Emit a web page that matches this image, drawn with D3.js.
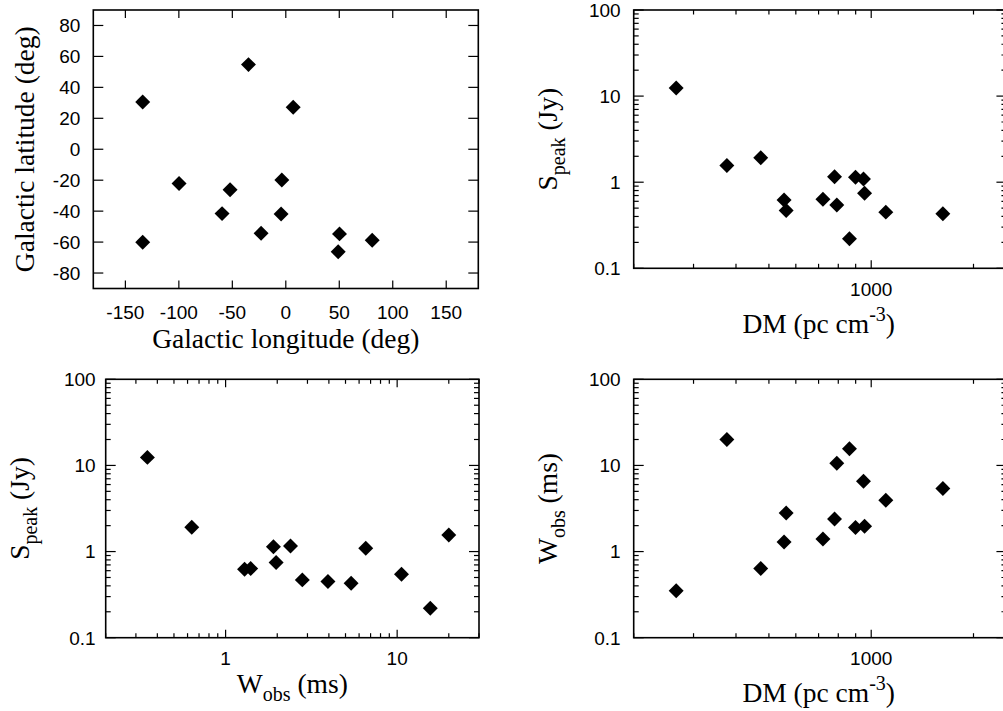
<!DOCTYPE html>
<html><head><meta charset="utf-8">
<script src="https://cdn.jsdelivr.net/npm/d3@7"></script>
<style>body{margin:0;background:#fff}svg{display:block}</style>
</head><body>
<svg id="c" width="1003" height="711"></svg>
<script>
// ---- Data ----
const galLon = [-133.8, -34.9, 6.9, -99.8, -52.1, -3.7, -59.6, -4.4, -133.8, -23.1, 50.2, 49.0, 80.8];
const galLat = [30.5, 54.7, 27.2, -22.1, -26.2, -19.9, -41.6, -41.8, -60.1, -54.3, -54.7, -66.3, -58.8];
const dmVals    = [266.7, 376, 473, 554, 562, 721, 780, 792, 863, 899, 949, 956, 1104, 1625];
const speakVals = [12.4, 1.56, 1.92, 0.623, 0.469, 0.635, 1.16, 0.545, 0.22, 1.14, 1.09, 0.745, 0.449, 0.429];
const wobsVals  = [0.35, 20.0, 0.635, 1.29, 2.8, 1.40, 2.39, 10.6, 15.6, 1.90, 6.56, 1.97, 3.95, 5.39];

const lonTicks = [-150, -100, -50, 0, 50, 100, 150];
const latTicks = [-80, -60, -40, -20, 0, 20, 40, 60, 80];
const logYTicks = [0.1, 1, 10, 100];
const logYLabels = ["0.1", "1", "10", "100"];
const dmTicks = [1000];
const dmLabels = ["1000"];
const wTicks = [1, 10];
const wLabels = ["1", "10"];

// ---- Drawing ----
const svg = d3.select("#c");
const TICKFONT = "'Liberation Sans', Arial, Helvetica, sans-serif";
const TITLEFONT = "'Liberation Serif', 'Times New Roman', serif";

function isDecade(v) { const l = Math.log10(v); return Math.abs(l - Math.round(l)) < 1e-9; }

function panel(cfg) {
  const g = svg.append("g");
  const x = cfg.x, y = cfg.y;
  const [xl, xr] = x.range();
  const [yb, yt] = y.range();

  // ticks
  const xMajor = cfg.xMajorTicks, yMajor = cfg.yMajorTicks;
  const xMinor = cfg.xLog ? x.ticks().filter(v => !isDecade(v)) : [];
  const yMinor = cfg.yLog ? y.ticks().filter(v => !isDecade(v)) : [];
  const xAll = (cfg.xLog ? x.ticks().filter(isDecade) : xMajor).map(v => ({v, len: 8})).concat(xMinor.map(v => ({v, len: 4.5})));
  const yAll = (cfg.yLog ? y.ticks().filter(isDecade) : yMajor).map(v => ({v, len: 10})).concat(yMinor.map(v => ({v, len: 5})));

  const tk = g.append("g").attr("stroke", "#000").attr("stroke-width", 1.2);
  xAll.forEach(t => {
    const px = x(t.v);
    tk.append("line").attr("x1", px).attr("x2", px).attr("y1", yb).attr("y2", yb - t.len);
    tk.append("line").attr("x1", px).attr("x2", px).attr("y1", yt).attr("y2", yt + t.len);
  });
  yAll.forEach(t => {
    const py = y(t.v);
    tk.append("line").attr("y1", py).attr("y2", py).attr("x1", xl).attr("x2", xl + t.len);
    tk.append("line").attr("y1", py).attr("y2", py).attr("x1", xr).attr("x2", xr - t.len);
  });

  // frame
  g.append("rect").attr("x", xl).attr("y", yt).attr("width", xr - xl).attr("height", yb - yt)
    .attr("fill", "none").attr("stroke", "#000").attr("stroke-width", 1.6);

  // tick labels
  const tl = g.append("g").attr("font-family", TICKFONT).attr("font-size", 19).attr("fill", "#000");
  xMajor.forEach((v, i) => {
    tl.append("text").attr("x", x(v)).attr("y", yb + cfg.xLabOff).attr("text-anchor", "middle")
      .text(cfg.xLabels[i]);
  });
  yMajor.forEach((v, i) => {
    tl.append("text").attr("x", xl - cfg.yLabOff).attr("y", y(v)).attr("dy", "0.36em")
      .attr("text-anchor", "end").text(cfg.yLabels[i]);
  });

  // axis titles
  const xt = g.append("text").attr("font-family", TITLEFONT).attr("font-size", 27.5)
    .attr("text-anchor", "middle").attr("x", (xl + Math.min(xr, 1003.7)) / 2 + (cfg.xTitleShift || 0)).attr("y", yb + cfg.xTitleOff);
  cfg.xTitle(xt);
  const cy = (yb + yt) / 2;
  const yt2 = g.append("text").attr("font-family", TITLEFONT).attr("font-size", 27.5)
    .attr("text-anchor", "middle")
    .attr("transform", `translate(${xl - cfg.yTitleOff},${cy + (cfg.yTitleShift || 0)}) rotate(-90)`);
  cfg.yTitle(yt2);

  // points
  const sym = d3.symbol().type(d3.symbolSquare).size(112);
  g.append("g").selectAll("path").data(cfg.pts).join("path")
    .attr("d", sym)
    .attr("transform", d => `translate(${x(d[0])},${y(d[1])}) rotate(45)`)
    .attr("fill", "#000");
}

function subTitle(main, sub, rest) {
  return t => {
    t.append("tspan").text(main);
    t.append("tspan").attr("font-size", 20).attr("dy", 8).text(sub);
    t.append("tspan").attr("dy", -8).text(rest);
  };
}
function dmTitle(t) {
  t.append("tspan").text("DM (pc cm");
  t.append("tspan").attr("font-size", 20).attr("dy", -11.5).text("-3");
  t.append("tspan").attr("dy", 11.5).text(")");
}

// Panel 1: galactic coordinates
panel({
  x: d3.scaleLinear().domain([-180, 180]).range([93.3, 478.3]),
  y: d3.scaleLinear().domain([-90, 90]).range([288.5, 10]),
  xMajorTicks: lonTicks, xLabels: lonTicks.map(String),
  yMajorTicks: latTicks, yLabels: latTicks.map(String),
  xLabOff: 30, yLabOff: 13, xTitleOff: 59.5, yTitleOff: 59,
  xTitle: t => t.text("Galactic longitude (deg)"),
  yTitle: t => t.text("Galactic latitude (deg)"),
  pts: galLon.map((v, i) => [v, galLat[i]])
});

// Panel 2: Speak vs DM
panel({
  x: d3.scaleLog().domain([200, 2500]).range([633.7, 633.7 + Math.log10(12.5) * 339.8]),
  y: d3.scaleLog().domain([0.1, 100]).range([268.3, 10]),
  xLog: true, yLog: true,
  xMajorTicks: dmTicks, xLabels: dmLabels,
  yMajorTicks: logYTicks, yLabels: logYLabels,
  xLabOff: 27.5, yLabOff: 13, xTitleOff: 64.5, yTitleOff: 77,
  xTitle: dmTitle,
  yTitle: subTitle("S", "peak", " (Jy)"),
  pts: dmVals.map((v, i) => [v, speakVals[i]])
});

// Panel 3: Speak vs Wobs
panel({
  x: d3.scaleLog().domain([0.2, 30]).range([105.7, 479]),
  y: d3.scaleLog().domain([0.1, 100]).range([637.7, 379.3]),
  xLog: true, yLog: true,
  xMajorTicks: wTicks, xLabels: wLabels,
  yMajorTicks: logYTicks, yLabels: logYLabels,
  xLabOff: 27.5, yLabOff: 10, xTitleOff: 55.5, yTitleOff: 77,
  xTitle: subTitle("W", "obs", " (ms)"),
  yTitle: subTitle("S", "peak", " (Jy)"),
  pts: wobsVals.map((v, i) => [v, speakVals[i]])
});

// Panel 4: Wobs vs DM
panel({
  x: d3.scaleLog().domain([200, 2500]).range([633.7, 633.7 + Math.log10(12.5) * 339.8]),
  y: d3.scaleLog().domain([0.1, 100]).range([637.7, 379.3]),
  xLog: true, yLog: true,
  xMajorTicks: dmTicks, xLabels: dmLabels,
  yMajorTicks: logYTicks, yLabels: logYLabels,
  xLabOff: 27.5, yLabOff: 13, xTitleOff: 64, yTitleOff: 77,
  xTitle: dmTitle,
  yTitle: subTitle("W", "obs", " (ms)"),
  pts: dmVals.map((v, i) => [v, wobsVals[i]])
});
</script>
</body></html>
